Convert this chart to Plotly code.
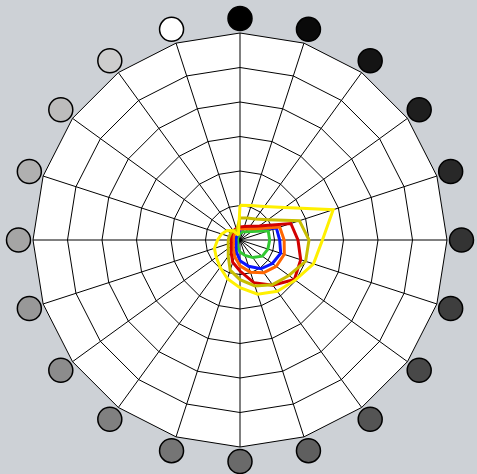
import plotly.graph_objects as go

# 20 compass directions, 18 degrees apart, clockwise from north
directions = ["0°", "18°", "36°", "54°", "72°", "90°", "108°", "126°", "144°", "162°",
              "180°", "198°", "216°", "234°", "252°", "270°", "288°", "306°", "324°", "342°"]

# ring of grey markers sitting just outside the plot edge
marker_r = [1, 1, 1, 1, 1, 1, 1, 1, 1, 1,
            1, 1, 1, 1, 1, 1, 1, 1, 1, 1]
marker_grey = [0, 10, 20, 30, 40, 51, 62, 72, 84, 95,
               106, 117, 128, 140, 152, 165, 176, 188, 205, 255]

green = [0.2, 0.25, 0.3, 0.42, 0.86, 0.86, 0.85, 0.8, 0.63, 0.47,
         0.35, 0.22, 0.12, 0.08, 0.07, 0.07, 0.07, 0.08, 0.1, 0.12]
blue = [0.3, 0.36, 0.42, 0.58, 1.11, 1.15, 1.24, 1.16, 1.03, 0.8,
        0.6, 0.35, 0.2, 0.14, 0.12, 0.12, 0.12, 0.13, 0.15, 0.2]
orange = [0.32, 0.34, 0.4, 0.55, 1.21, 1.28, 1.35, 1.3, 1.17, 0.98,
          0.75, 0.5, 0.33, 0.24, 0.2, 0.19, 0.2, 0.22, 0.25, 0.28]
red = [0.38, 0.41, 0.49, 0.69, 1.55, 1.68, 1.85, 1.95, 1.62, 1.3,
       0.9, 0.68, 0.44, 0.32, 0.27, 0.26, 0.27, 0.3, 0.33, 0.35]
olive = [0.64, 0.67, 0.75, 1.0, 1.81, 2.0, 2.0, 1.75, 1.6, 1.4,
         1.15, 0.92, 0.58, 0.42, 0.36, 0.34, 0.33, 0.33, 0.33, 0.3]
yellow = [1.01, 1.05, 1.2, 1.6, 2.84, 2.39, 2.24, 1.98, 1.84, 1.65,
          1.38, 1.18, 0.98, 0.85, 0.78, 0.65, 0.56, 0.47, 0.33, 0.15]

series = [
    ("green", green, "rgb(50,200,50)"),
    ("blue", blue, "rgb(10,20,255)"),
    ("orange", orange, "rgb(255,102,0)"),
    ("red", red, "rgb(210,0,0)"),
    ("olive", olive, "rgb(200,190,0)"),
    ("yellow", yellow, "rgb(255,240,0)"),
]

W, H = 477, 474
CX, CY = 240, 240          # centre of the chart, px from top-left
R_GRID, R_MARK = 207, 221.5  # outer polygon radius and marker-ring radius, px


def dom(r):
    return dict(x=[(CX - r) / W, (CX + r) / W],
                y=[(H - CY - r) / H, (H - CY + r) / H])


fig = go.Figure()

for name, vals, col in series:
    fig.add_trace(go.Scatterpolar(
        r=vals + vals[:1], theta=directions + directions[:1], mode="lines",
        line=dict(color=col, width=3), name=name, showlegend=False,
        subplot="polar",
    ))

fig.add_trace(go.Scatterpolar(
    r=marker_r, theta=directions, mode="markers", cliponaxis=False,
    marker=dict(size=24, color=[f"rgb({g},{g},{g})" for g in marker_grey],
                line=dict(color="black", width=1.5)),
    showlegend=False, hoverinfo="skip", subplot="polar2",
))

ang_common = dict(type="category", rotation=90, direction="clockwise",
                  showticklabels=False, ticks="", categoryorder="array",
                  categoryarray=directions)

fig.update_layout(
    width=W, height=H, autosize=False,
    paper_bgcolor="rgb(205,209,214)",
    margin=dict(l=0, r=0, t=0, b=0, pad=0),
    showlegend=False,
    polar=dict(
        domain=dom(R_GRID),
        bgcolor="white",
        gridshape="linear",
        radialaxis=dict(range=[0, 6], dtick=1, showticklabels=False, ticks="",
                        gridcolor="black", gridwidth=1, showline=False),
        angularaxis=dict(**ang_common, gridcolor="black",
                         linecolor="black", linewidth=1),
    ),
    polar2=dict(
        domain=dom(R_MARK),
        bgcolor="rgba(0,0,0,0)",
        gridshape="linear",
        radialaxis=dict(range=[0, 1], visible=False),
        angularaxis=dict(**ang_common, showgrid=False, showline=False),
    ),
)

fig.write_html("out.html", config={"displayModeBar": False},
               post_script="document.body.style.margin='0';")
